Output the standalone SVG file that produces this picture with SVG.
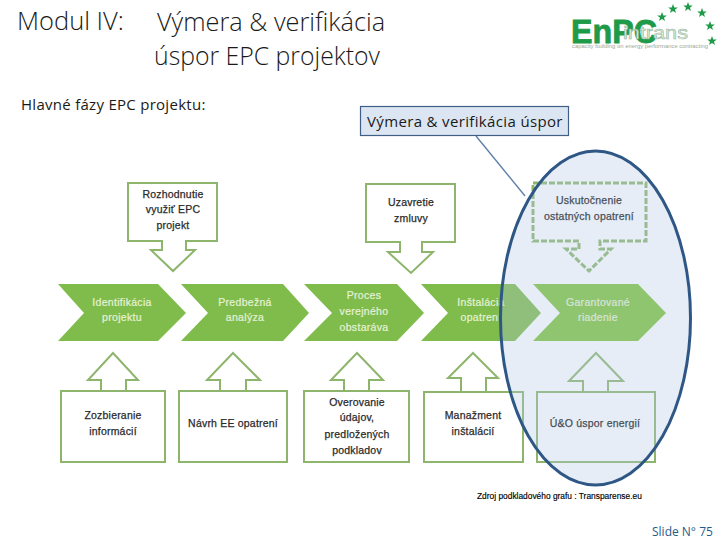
<svg xmlns="http://www.w3.org/2000/svg" width="720" height="540" viewBox="0 0 720 540">
<style>
.t{font-family:"Open Sans","Noto Sans",sans-serif;fill:#1a1a1a}
.b{fill:#fff;stroke:#8db56b;stroke-width:2;stroke-linejoin:miter}
.d{fill:#fff;stroke:#8db56b;stroke-width:3;stroke-dasharray:6 2}
.c{fill:#7fbc4b}
.n{font-family:"Liberation Sans",Arial,sans-serif;font-size:10.5px;fill:#2a2a2a;stroke:#2a2a2a;stroke-width:.25;text-anchor:middle;letter-spacing:.2px}
.w{font-family:"Liberation Sans",Arial,sans-serif;font-size:10.5px;fill:#e6f2d8;stroke:#e6f2d8;stroke-width:.2;text-anchor:middle;letter-spacing:.3px}
.s{fill:#1f9a49}
</style>
<defs>
<polygon id="star" points="0,-5 1.3,-1.6 4.8,-1.5 2,.7 3,4.1 0,2.1 -3,4.1 -2,.7 -4.8,-1.5 -1.3,-1.6"/>
</defs>
<g id="title">
<text class="t" x="17" y="30" font-size="25.500" font-weight="300">Modul IV:</text>
<text class="t" x="157" y="31" font-size="25.300" font-weight="300">Výmera &amp; verifikácia</text>
<text class="t" x="154" y="65" font-size="24.800" font-weight="300">úspor EPC projektov</text>
<text class="t" x="21" y="110" font-size="15" letter-spacing=".28">Hlavné fázy EPC projektu:</text>
</g>
<g id="logo">
<text x="571" y="43" font-family="Liberation Sans,Arial,sans-serif" font-size="33" font-weight="700" fill="#1f9a49" stroke="#1f9a49" stroke-width=".8" textLength="86" lengthAdjust="spacingAndGlyphs">EnPC</text>
<text x="623" y="39" font-family="Liberation Sans,Arial,sans-serif" font-size="18" fill="#dcebdc" stroke="#8fb39a" stroke-width=".5" textLength="65" lengthAdjust="spacingAndGlyphs">intrans</text>
<text x="572" y="47.500" font-family="Liberation Sans,Arial,sans-serif" font-size="5.500" fill="#9aa89a" textLength="136" lengthAdjust="spacingAndGlyphs">capacity building on energy performance contracting</text>
<use href="#star" class="s" x="662" y="17"/><use href="#star" class="s" x="673" y="9"/><use href="#star" class="s" x="688" y="7"/><use href="#star" class="s" x="702" y="13"/><use href="#star" class="s" x="710" y="26"/><use href="#star" class="s" x="712" y="41"/>
</g>
<g id="connectors">
<path d="M476 136L525 196" fill="none" stroke="#5f81a8" stroke-width="1.400"/>
</g>
<g id="phase1"><polygon class="c" points="58,284 158,284 186,313 158,341 58,341 84,313"/><text class="w" x="122" y="306">Identifikácia</text><text class="w" x="122" y="321">projektu</text></g>
<g id="phase2"><polygon class="c" points="181,284 283,284 309,313 283,341 181,341 208,313"/><text class="w" x="245" y="306">Predbežná</text><text class="w" x="245" y="321">analýza</text></g>
<g id="phase3"><polygon class="c" points="304,284 397,284 424,313 397,341 304,341 332,313"/><text class="w" x="364" y="299">Proces</text><text class="w" x="364" y="315">verejného</text><text class="w" x="364" y="331">obstaráva</text></g>
<g id="phase4"><polygon class="c" points="421,284 515,284 541,313 515,341 421,341 448,313"/><text class="w" x="481" y="306">Inštalácia</text><text class="w" x="481" y="321">opatrení</text></g>
<g id="phase5"><polygon points="533,284 638,284 666,313 638,341 533,341 560,313" fill="#7fc539"/><text class="w" x="598" y="306">Garantované</text><text class="w" x="598" y="321">riadenie</text></g>
<g id="top1"><polygon class="b" points="128,183 217,183 217,241 186,241 186,250 195,250 173,271 151,250 162,250 162,241 128,241"/><text class="n" x="173" y="198">Rozhodnutie</text><text class="n" x="173" y="213">využiť EPC</text><text class="n" x="173" y="229">projekt</text></g>
<g id="top2"><polygon class="b" points="366,184 455,184 455,242 422,242 422,252 433,252 411,273 388,252 400,252 400,242 366,242"/><text class="n" x="411" y="206">Uzavretie</text><text class="n" x="411" y="222">zmluvy</text></g>
<g id="top3"><polygon class="d" points="533,183 646,183 646,241 600,241 600,249 611,249 589,271 566,249 579,249 579,241 533,241"/><text class="n" x="589" y="204" style="fill:#111;stroke:#111">Uskutočnenie</text><text class="n" x="589" y="220" style="fill:#111;stroke:#111">ostatných opatrení</text></g>
<g id="bottom1"><polygon class="b" points="61,391 165,391 165,462 61,462 61,391 101,391 101,380 88,380 113,353 138,380 126,380 126,391"/><text class="n" x="113" y="419">Zozbieranie</text><text class="n" x="113" y="435">informácií</text></g>
<g id="bottom2"><polygon class="b" points="179,391 287,391 287,462 179,462 179,391 220,391 220,380 207,380 233,353 260,380 246,380 246,391"/><text class="n" x="233" y="427">Návrh EE opatrení</text></g>
<g id="bottom3"><polygon class="b" points="304,391 409,391 409,462 304,462 304,391 344,391 344,380 331,380 357,353 383,380 369,380 369,391"/><text class="n" x="357" y="406">Overovanie</text><text class="n" x="357" y="421">údajov,</text><text class="n" x="357" y="438">predložených</text><text class="n" x="357" y="454">podkladov</text></g>
<g id="bottom4"><polygon class="b" points="424,392 523,392 523,462 424,462 424,392 461,392 461,378 448,378 473,353 498,378 486,378 486,392"/><text class="n" x="473" y="419">Manažment</text><text class="n" x="473" y="435">inštalácií</text></g>
<g id="bottom5"><polygon class="b" points="537,392 655,392 655,462 537,462 537,392 583,392 583,381 569,381 596,353 623,381 608,381 608,392"/><text class="n" x="595" y="427" style="fill:#111;stroke:#111">Ú&amp;O úspor energií</text></g>
<g id="highlight"><ellipse cx="595.500" cy="318" rx="95" ry="167" fill="#b1c7e3" fill-opacity=".32" stroke="#2f5785" stroke-width="3"/></g>
<g id="callout"><rect x="360.500" y="106.500" width="208" height="29" fill="#dce6f2" stroke="#3f5f87" stroke-width="1.200"/><text class="t" x="367" y="127" font-size="15" letter-spacing=".35">Výmera &amp; verifikácia úspor</text></g>
<g id="notes">
<text x="477" y="499" font-family="Liberation Sans,Arial,sans-serif" font-size="8.400" fill="#000" stroke="#000" stroke-width=".15">Zdroj podkladového grafu : Transparense.eu</text>
<text class="t" x="652" y="536" font-size="12" style="fill:#1f5c8c">Slide N° 75</text>
</g>
</svg>
